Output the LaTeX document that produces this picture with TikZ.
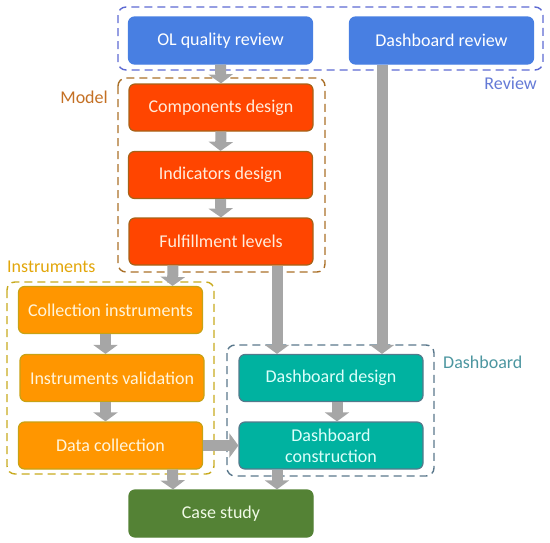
\documentclass[tikz,border=0pt]{standalone}
\usepackage{fontspec}
\setmainfont{Carlito}
\usetikzlibrary{arrows.meta,calc}
\definecolor{bluefill}{RGB}{72,127,226}
\definecolor{reviewdash}{RGB}{94,106,210}
\definecolor{reviewtxt}{RGB}{100,122,214}
\definecolor{redfill}{RGB}{255,69,0}
\definecolor{redborder}{RGB}{166,98,24}
\definecolor{modeldash}{RGB}{170,112,40}
\definecolor{modeltxt}{RGB}{196,112,36}
\definecolor{orfill}{RGB}{255,150,0}
\definecolor{orborder}{RGB}{200,162,20}
\definecolor{instdash}{RGB}{200,170,30}
\definecolor{insttxt}{RGB}{226,166,10}
\definecolor{tealfill}{RGB}{0,178,160}
\definecolor{tealborder}{RGB}{84,122,140}
\definecolor{dashdash}{RGB}{90,120,140}
\definecolor{dashtxt}{RGB}{76,150,160}
\definecolor{greenfill}{RGB}{84,130,53}
\definecolor{arrowgray}{RGB}{166,166,166}
\tikzset{
  box/.style={rectangle, rounded corners=6pt, minimum width=184pt, minimum height=47pt,
    line width=1.2pt, font=\fontsize{18}{21}\selectfont, align=center, inner sep=1pt},
  bluebox/.style={box, fill=bluefill, draw=bluefill, text=white},
  redbox/.style={box, fill=redfill, draw=redborder, text={rgb,255:red,255;green,236;blue,220}},
  orbox/.style={box, fill=orfill, draw=orborder, text={rgb,255:red,255;green,245;blue,220}},
  tealbox/.style={box, fill=tealfill, draw=tealborder, text={rgb,255:red,220;green,255;blue,250}},
  greenbox/.style={box, fill=greenfill, draw=greenfill, text={rgb,255:red,240;green,250;blue,230}},
  group/.style={rounded corners=8pt, line width=1.4pt, dash pattern=on 8pt off 5pt},
  grouplabel/.style={font=\fontsize{18}{21}\selectfont, inner sep=0pt},
  bigarrow/.style={draw=arrowgray, line width=11pt, -{Triangle[length=9pt,width=24pt]}},
}
\begin{document}
\begin{tikzpicture}[x=1pt,y=-1pt]
\useasboundingbox (0,0) rectangle (550,542);
% group frames
\draw[group, draw=reviewdash] (118,7) rectangle (543,70);
\draw[group, draw=modeldash] (118,78) rectangle (325,272);
\draw[group, draw=instdash] (7,282) rectangle (214,474);
\draw[group, draw=dashdash] (227,345) rectangle (434,476);
% group labels
\node[grouplabel, text=reviewtxt, anchor=east] (lreview) at (537,83) {Review};
\node[grouplabel, text=modeltxt, anchor=east] (lmodel) at (108,97) {Model};
\node[grouplabel, text=insttxt, anchor=west] (linst) at (7,267) {Instruments};
\node[grouplabel, text=dashtxt, anchor=west] (ldash) at (443,362) {Dashboard};
% boxes
\node[bluebox] (ol) at (220.5,40.5) {OL quality review};
\node[bluebox] (dr) at (441.5,40.5) {Dashboard review};
\node[redbox] (cd) at (221,107.5) {Components design};
\node[redbox] (id) at (220.5,175) {Indicators design};
\node[redbox] (fl) at (221,241.5) {Fulfillment levels};
\node[orbox] (ci) at (110.5,310) {Collection instruments};
\node[orbox] (iv) at (112,378) {Instruments validation};
\node[orbox] (dc) at (110.5,445.5) {Data collection};
\node[greenbox] (cs) at (221,513.5) {Case study};
\node[tealbox] (dd) at (331,378) {Dashboard design};
\node[tealbox] (dcon) at (331,445.5) {Dashboard\\construction};
% arrows
\draw[bigarrow] (ol.south) -- (cd.north);
\draw[bigarrow] (cd.south) -- (id.north);
\draw[bigarrow] (id.south) -- (fl.north);
\draw[bigarrow] ($(fl.south)+(-48,0)$) -- ($(ci.north)+(62,0)$);
\draw[bigarrow] ($(ci.south)+(-5,0)$) -- ($(iv.north)+(-6.5,0)$);
\draw[bigarrow] ($(iv.south)+(-6.5,0)$) -- ($(dc.north)+(-5,0)$);
\draw[bigarrow] ($(dc.south)+(62,0)$) -- ($(cs.north)+(-48,0)$);
\draw[bigarrow] (dc.east) -- (dcon.west);
\draw[bigarrow] ($(fl.south)+(56,0)$) -- ($(dd.north)+(-54,0)$);
\draw[bigarrow] ($(dr.south)+(-59.5,0)$) -- ($(dd.north)+(51,0)$);
\draw[bigarrow] ($(dd.south)+(6,0)$) -- ($(dcon.north)+(6,0)$);
\draw[bigarrow] ($(dcon.south)+(-54,0)$) -- ($(cs.north)+(56,0)$);
\end{tikzpicture}
\end{document}
